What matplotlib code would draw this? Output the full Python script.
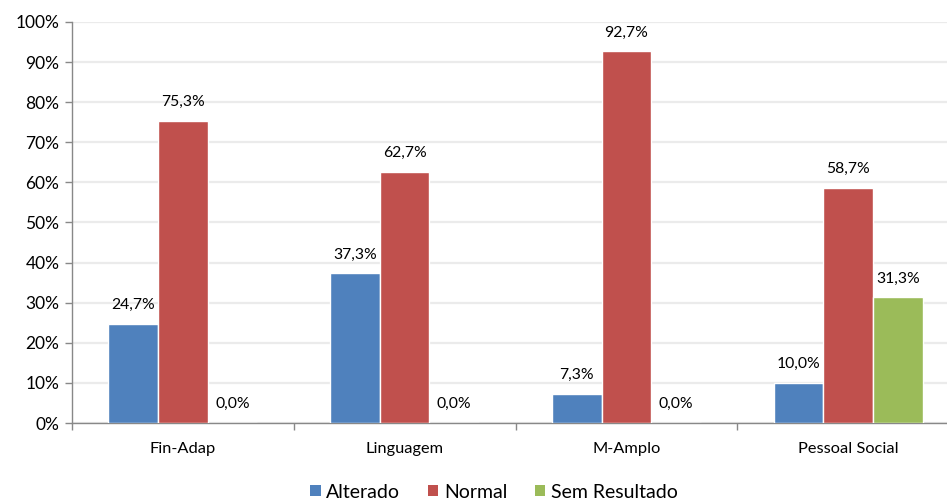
import matplotlib
matplotlib.use("Agg")
import matplotlib.pyplot as plt
import numpy as np
from matplotlib.ticker import MultipleLocator, FuncFormatter
from matplotlib.patches import Patch

categories = ["Fin-Adap", "Linguagem", "M-Amplo", "Pessoal Social"]
series_names = ["Alterado", "Normal", "Sem Resultado"]
alterado = [24.7, 37.3, 7.3, 10.0]
normal = [75.3, 62.7, 92.7, 58.7]
sem_resultado = [0.0, 0.0, 0.0, 31.3]
colors = ["#4F81BD", "#C0504D", "#9BBB59"]

plt.rcParams['font.family'] = ['Lato', 'DejaVu Sans']

fig = plt.figure(figsize=(9.47, 5.01), dpi=100)
W, H = 947, 501
left, right, top, bottom = 72, 959, 22, 423
ax = fig.add_axes([left / W, (H - bottom) / H, (right - left) / W, (bottom - top) / H])

x = np.arange(len(categories))
bw = 0.224
data = [alterado, normal, sem_resultado]
for i, (vals, c) in enumerate(zip(data, colors)):
    xs = x + (i - 1) * bw
    ax.bar(xs, vals, width=bw, color=c, edgecolor="white", linewidth=1, zorder=3)
    for xx, v in zip(xs, vals):
        ax.annotate(f"{v:.1f}%".replace(".", ","), (xx, v), xytext=(0, 8.5),
                    textcoords="offset points", ha="center", va="bottom",
                    fontsize=11.3, color="#000000", zorder=4)

ax.set_xlim(-0.5, len(categories) - 0.5)
ax.set_ylim(0, 100)
ax.yaxis.set_major_locator(MultipleLocator(10))
ax.yaxis.set_major_formatter(FuncFormatter(lambda v, p: f"{int(round(v))}%"))
ax.grid(axis="y", color="#ebebeb", linewidth=1.6, zorder=0)
ax.set_axisbelow(True)

ax.set_xticks(x)
ax.set_xticklabels(categories, fontsize=11.8)
ax.tick_params(axis="x", length=0, pad=14)
ax.set_xticks(np.arange(-0.5, len(categories), 1), minor=True)
ax.tick_params(axis="x", which="minor", length=5, color="#888888", width=1)
ax.tick_params(axis="y", labelsize=12.5, length=5, color="#888888", width=1, pad=4)

for s in ["top", "right"]:
    ax.spines[s].set_visible(False)
for s in ["left", "bottom"]:
    ax.spines[s].set_color("#888888")
    ax.spines[s].set_linewidth(1)

handles = [Patch(facecolor=c, edgecolor="none") for c in colors]
fig.legend(handles, series_names, loc="center", bbox_to_anchor=(494 / W, 1 - 492 / H),
           ncol=3, frameon=False, fontsize=14, handlelength=0.55, handleheight=0.55,
           handletextpad=0.3, columnspacing=1.4)

fig.savefig("out.png", dpi=100)
